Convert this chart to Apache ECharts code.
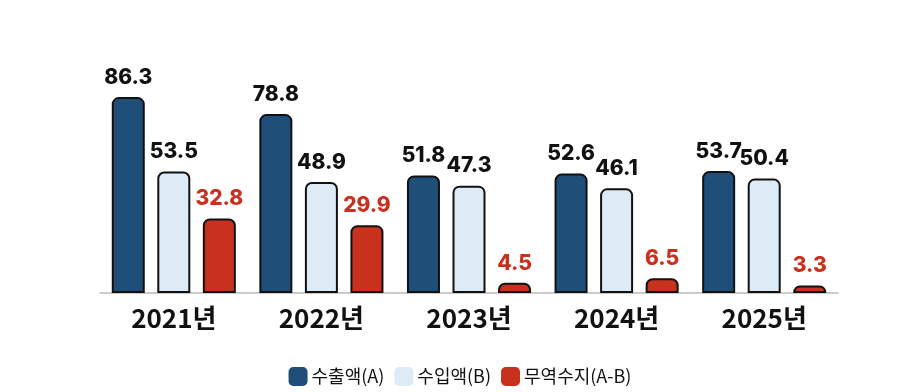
<!DOCTYPE html>
<html>
<head>
<meta charset="utf-8">
<script src="https://cdn.jsdelivr.net/npm/echarts@6/dist/echarts.min.js"></script>
<style>
  html, body { margin: 0; padding: 0; background: #fff; }
  #chart { width: 920px; height: 392px; }
</style>
</head>
<body>
<div id="chart"></div>
<script>
// 연도별 데이터
const years = ['2021년', '2022년', '2023년', '2024년', '2025년']
const exportVals = [86.3, 78.8, 51.8, 52.6, 53.7]
const importVals = [53.5, 48.9, 47.3, 46.1, 50.4]
const balanceVals = [32.8, 29.9, 4.5, 6.5, 3.3]

const chart = echarts.init(document.getElementById('chart'))

const numFont = 'Inter, "Liberation Sans", Arial, sans-serif'
const krFont = '"Noto Sans CJK KR", "Noto Sans", sans-serif'

const makeSeries = (name, data, color, labelColor) => ({
  name: name,
  type: 'bar',
  data: data,
  barWidth: 33,
  barGap: '38%',
  itemStyle: {
    color: color,
    borderColor: '#111',
    borderWidth: 2,
    borderRadius: [6, 6, 0, 0]
  },
  label: {
    show: true,
    position: 'top',
    distance: 9,
    color: labelColor,
    fontFamily: numFont,
    fontWeight: 800,
    fontSize: 21
  }
})

chart.setOption({
  animation: false,
  grid: { left: 100, right: 82, top: 66, bottom: 99 },
  legend: {
    bottom: 1,
    left: 'center',
    icon: 'roundRect',
    itemWidth: 19,
    itemHeight: 19,
    itemGap: 10,
    itemStyle: { borderWidth: 0 },
    textStyle: { fontFamily: krFont, fontSize: 18, color: '#111', padding: [0, 0, 0, -1] }
  },
  xAxis: {
    type: 'category',
    data: years,
    axisLine: { lineStyle: { color: '#bbb', width: 1.5 } },
    axisTick: { show: false },
    axisLabel: {
      margin: 12,
      fontFamily: krFont,
      fontWeight: 'bold',
      fontSize: 26,
      color: '#111'
    }
  },
  yAxis: {
    type: 'value',
    min: 0,
    max: 100,
    show: false,
    splitLine: { show: false }
  },
  series: [
    makeSeries('수출액(A)', exportVals, '#1F4E79', '#111'),
    makeSeries('수입액(B)', importVals, '#DDEBF7', '#111'),
    makeSeries('무역수지(A-B)', balanceVals, '#C9311F', '#C9311F')
  ]
})
</script>
</body>
</html>
